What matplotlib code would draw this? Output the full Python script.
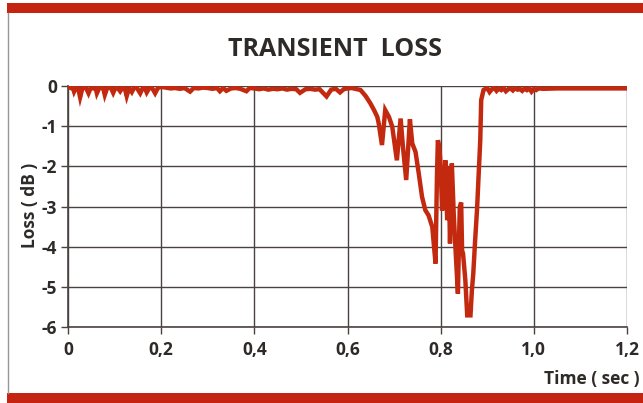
import matplotlib
matplotlib.use("Agg")
import matplotlib.pyplot as plt
from matplotlib.patches import Rectangle
from matplotlib.lines import Line2D
import numpy as np

# ---- data ----
t_quiet_a = [0.000, 0.006, 0.010, 0.013, 0.017, 0.022, 0.026, 0.031, 0.036, 0.040,
             0.044, 0.049, 0.055, 0.059, 0.062, 0.067, 0.072, 0.076, 0.079, 0.084,
             0.089, 0.093, 0.097, 0.102, 0.107, 0.112, 0.117, 0.122, 0.126, 0.131,
             0.137, 0.142, 0.148, 0.155, 0.160, 0.165, 0.169, 0.175, 0.181, 0.187,
             0.193, 0.200]
loss_quiet_a = [-0.02, -0.05, -0.03, -0.14, -0.04, -0.06, -0.28, -0.05, -0.03, -0.08,
                -0.18, -0.04, -0.06, -0.03, -0.18, -0.05, -0.04, -0.07, -0.22, -0.05,
                -0.03, -0.07, -0.17, -0.04, -0.05, -0.13, -0.04, -0.06, -0.25, -0.05,
                -0.15, -0.04, -0.05, -0.18, -0.06, -0.05, -0.16, -0.04, -0.06, -0.18,
                -0.05, -0.02]

t_quiet_b = [0.21, 0.22, 0.23, 0.24, 0.25, 0.262, 0.27, 0.28, 0.29, 0.30,
             0.31, 0.32, 0.326, 0.333, 0.34, 0.35, 0.36, 0.37, 0.383, 0.39,
             0.40, 0.41, 0.42, 0.43, 0.44, 0.45, 0.46, 0.47, 0.48, 0.49,
             0.498, 0.51, 0.52, 0.53, 0.54, 0.555, 0.565, 0.575, 0.584, 0.592,
             0.60]
loss_quiet_b = [-0.04, -0.06, -0.05, -0.07, -0.05, -0.14, -0.05, -0.06, -0.04, -0.05,
                -0.07, -0.05, -0.13, -0.05, -0.12, -0.06, -0.05, -0.07, -0.13, -0.05,
                -0.06, -0.08, -0.06, -0.09, -0.07, -0.08, -0.06, -0.09, -0.07, -0.08,
                -0.17, -0.08, -0.07, -0.09, -0.08, -0.26, -0.09, -0.07, -0.16, -0.08,
                -0.06]

t_transient = [0.609, 0.628, 0.639, 0.649, 0.657, 0.664, 0.667, 0.674, 0.681, 0.689,
               0.696, 0.706, 0.714, 0.719, 0.726, 0.734, 0.739, 0.746, 0.753, 0.760,
               0.767, 0.774, 0.782, 0.789, 0.792, 0.794, 0.797, 0.800, 0.803, 0.807,
               0.810, 0.814, 0.817, 0.820, 0.824, 0.828, 0.832, 0.837, 0.841, 0.844,
               0.846, 0.848, 0.853, 0.857, 0.864, 0.867, 0.870, 0.874, 0.878, 0.882,
               0.885, 0.887, 0.892]
loss_transient = [-0.05, -0.10, -0.25, -0.43, -0.60, -0.77, -0.93, -1.47, -0.60, -0.77,
                  -1.01, -1.85, -0.81, -1.51, -2.34, -0.83, -1.43, -1.64, -2.18, -2.76,
                  -3.09, -3.22, -3.51, -4.42, -2.26, -1.35, -1.50, -2.00, -3.10, -2.76,
                  -1.85, -3.34, -2.01, -3.92, -1.93, -3.18, -4.09, -5.17, -3.01, -2.90,
                  -4.10, -4.17, -4.84, -5.71, -5.71, -5.09, -4.67, -3.84, -3.09, -2.09,
                  -1.35, -0.35, -0.10]

t_recovery = [0.90, 0.905, 0.91, 0.915, 0.92, 0.925, 0.93, 0.935, 0.94, 0.945,
              0.95, 0.955, 0.96, 0.965, 0.97, 0.975, 0.98, 0.985, 0.99, 0.995,
              1.00, 1.005, 1.01, 1.02, 1.05, 1.10, 1.15, 1.20]
loss_recovery = [-0.05, -0.15, -0.08, -0.04, -0.12, -0.06, -0.10, -0.05, -0.13, -0.08,
                 -0.06, -0.11, -0.05, -0.09, -0.07, -0.12, -0.06, -0.10, -0.05, -0.14,
                 -0.07, -0.10, -0.06, -0.07, -0.06, -0.06, -0.06, -0.06]

x_ticks = [0, 0.2, 0.4, 0.6, 0.8, 1.0, 1.2]
x_tick_labels = ["0", "0,2", "0,4", "0,6", "0,8", "1,0", "1,2"]
y_ticks = [0, -1, -2, -3, -4, -5, -6]
y_tick_labels = ["0", "-1", "-2", "-3", "-4", "-5", "-6"]

title = "TRANSIENT  LOSS"
x_label = "Time ( sec )"
y_label = "Loss ( dB )"

time = t_quiet_a + t_quiet_b + t_transient + t_recovery
loss = loss_quiet_a + loss_quiet_b + loss_transient + loss_recovery

# ---- styling ----
plt.rcParams['font.family'] = ['Open Sans', 'DejaVu Sans']
text_col = "#2e2a28"
grid_col = "#4a4240"
line_col = "#c3290f"
bar_col = "#c52410"

W, H = 643, 403
fig = plt.figure(figsize=(W / 100, H / 100), dpi=100)
fig.patch.set_facecolor("white")

# decorative red bands and left border
fig.patches.append(Rectangle((7 / W, 1 - 13 / H), 1 - 7 / W, 10 / H,
                             transform=fig.transFigure, facecolor=bar_col,
                             edgecolor="none", zorder=0))
fig.patches.append(Rectangle((7 / W, 0), 1 - 7 / W, 10 / H,
                             transform=fig.transFigure, facecolor=bar_col,
                             edgecolor="none", zorder=0))
fig.lines.append(Line2D([7.5 / W, 7.5 / W], [10 / H, 1 - 13 / H],
                        transform=fig.transFigure, color="#9a9694", lw=1.0))

ax = fig.add_axes([68 / W, 1 - 327 / H, (627 - 68) / W, (327 - 86) / H])
ax.plot(time, loss, color=line_col, lw=3.2, solid_joinstyle="miter", zorder=3)

ax.set_xlim(0, 1.2)
ax.set_ylim(-6, 0)
ax.set_xticks(x_ticks)
ax.set_xticklabels(x_tick_labels)
ax.set_yticks(y_ticks)
ax.set_yticklabels(y_tick_labels)
ax.grid(True, color=grid_col, lw=1.0, zorder=1)
ax.set_axisbelow(True)
for s in ax.spines.values():
    s.set_visible(False)
ax.spines["left"].set_visible(True)
ax.spines["bottom"].set_visible(True)
ax.spines["left"].set_color(grid_col)
ax.spines["bottom"].set_color(grid_col)
ax.spines["left"].set_linewidth(1.2)
ax.spines["bottom"].set_linewidth(1.2)
ax.tick_params(axis="both", direction="out", length=5, width=1.0, color=grid_col,
               labelsize=12.5, labelcolor=text_col, pad=3)
for lab in ax.get_xticklabels() + ax.get_yticklabels():
    lab.set_fontweight("bold")
ax.tick_params(axis="x", pad=5)

fig.text(335 / W, 1 - 50 / H, title, ha="center", va="center", fontsize=18,
         fontweight="bold", color=text_col)
fig.text(30 / W, 1 - 205 / H, y_label, ha="center", va="center", rotation=90,
         fontsize=12.5, fontweight="bold", color=text_col)
fig.text(640 / W, 1 - 379 / H, x_label, ha="right", va="center",
         fontsize=12.5, fontweight="bold", color=text_col)

fig.savefig("out.png", dpi=100, facecolor="white")
